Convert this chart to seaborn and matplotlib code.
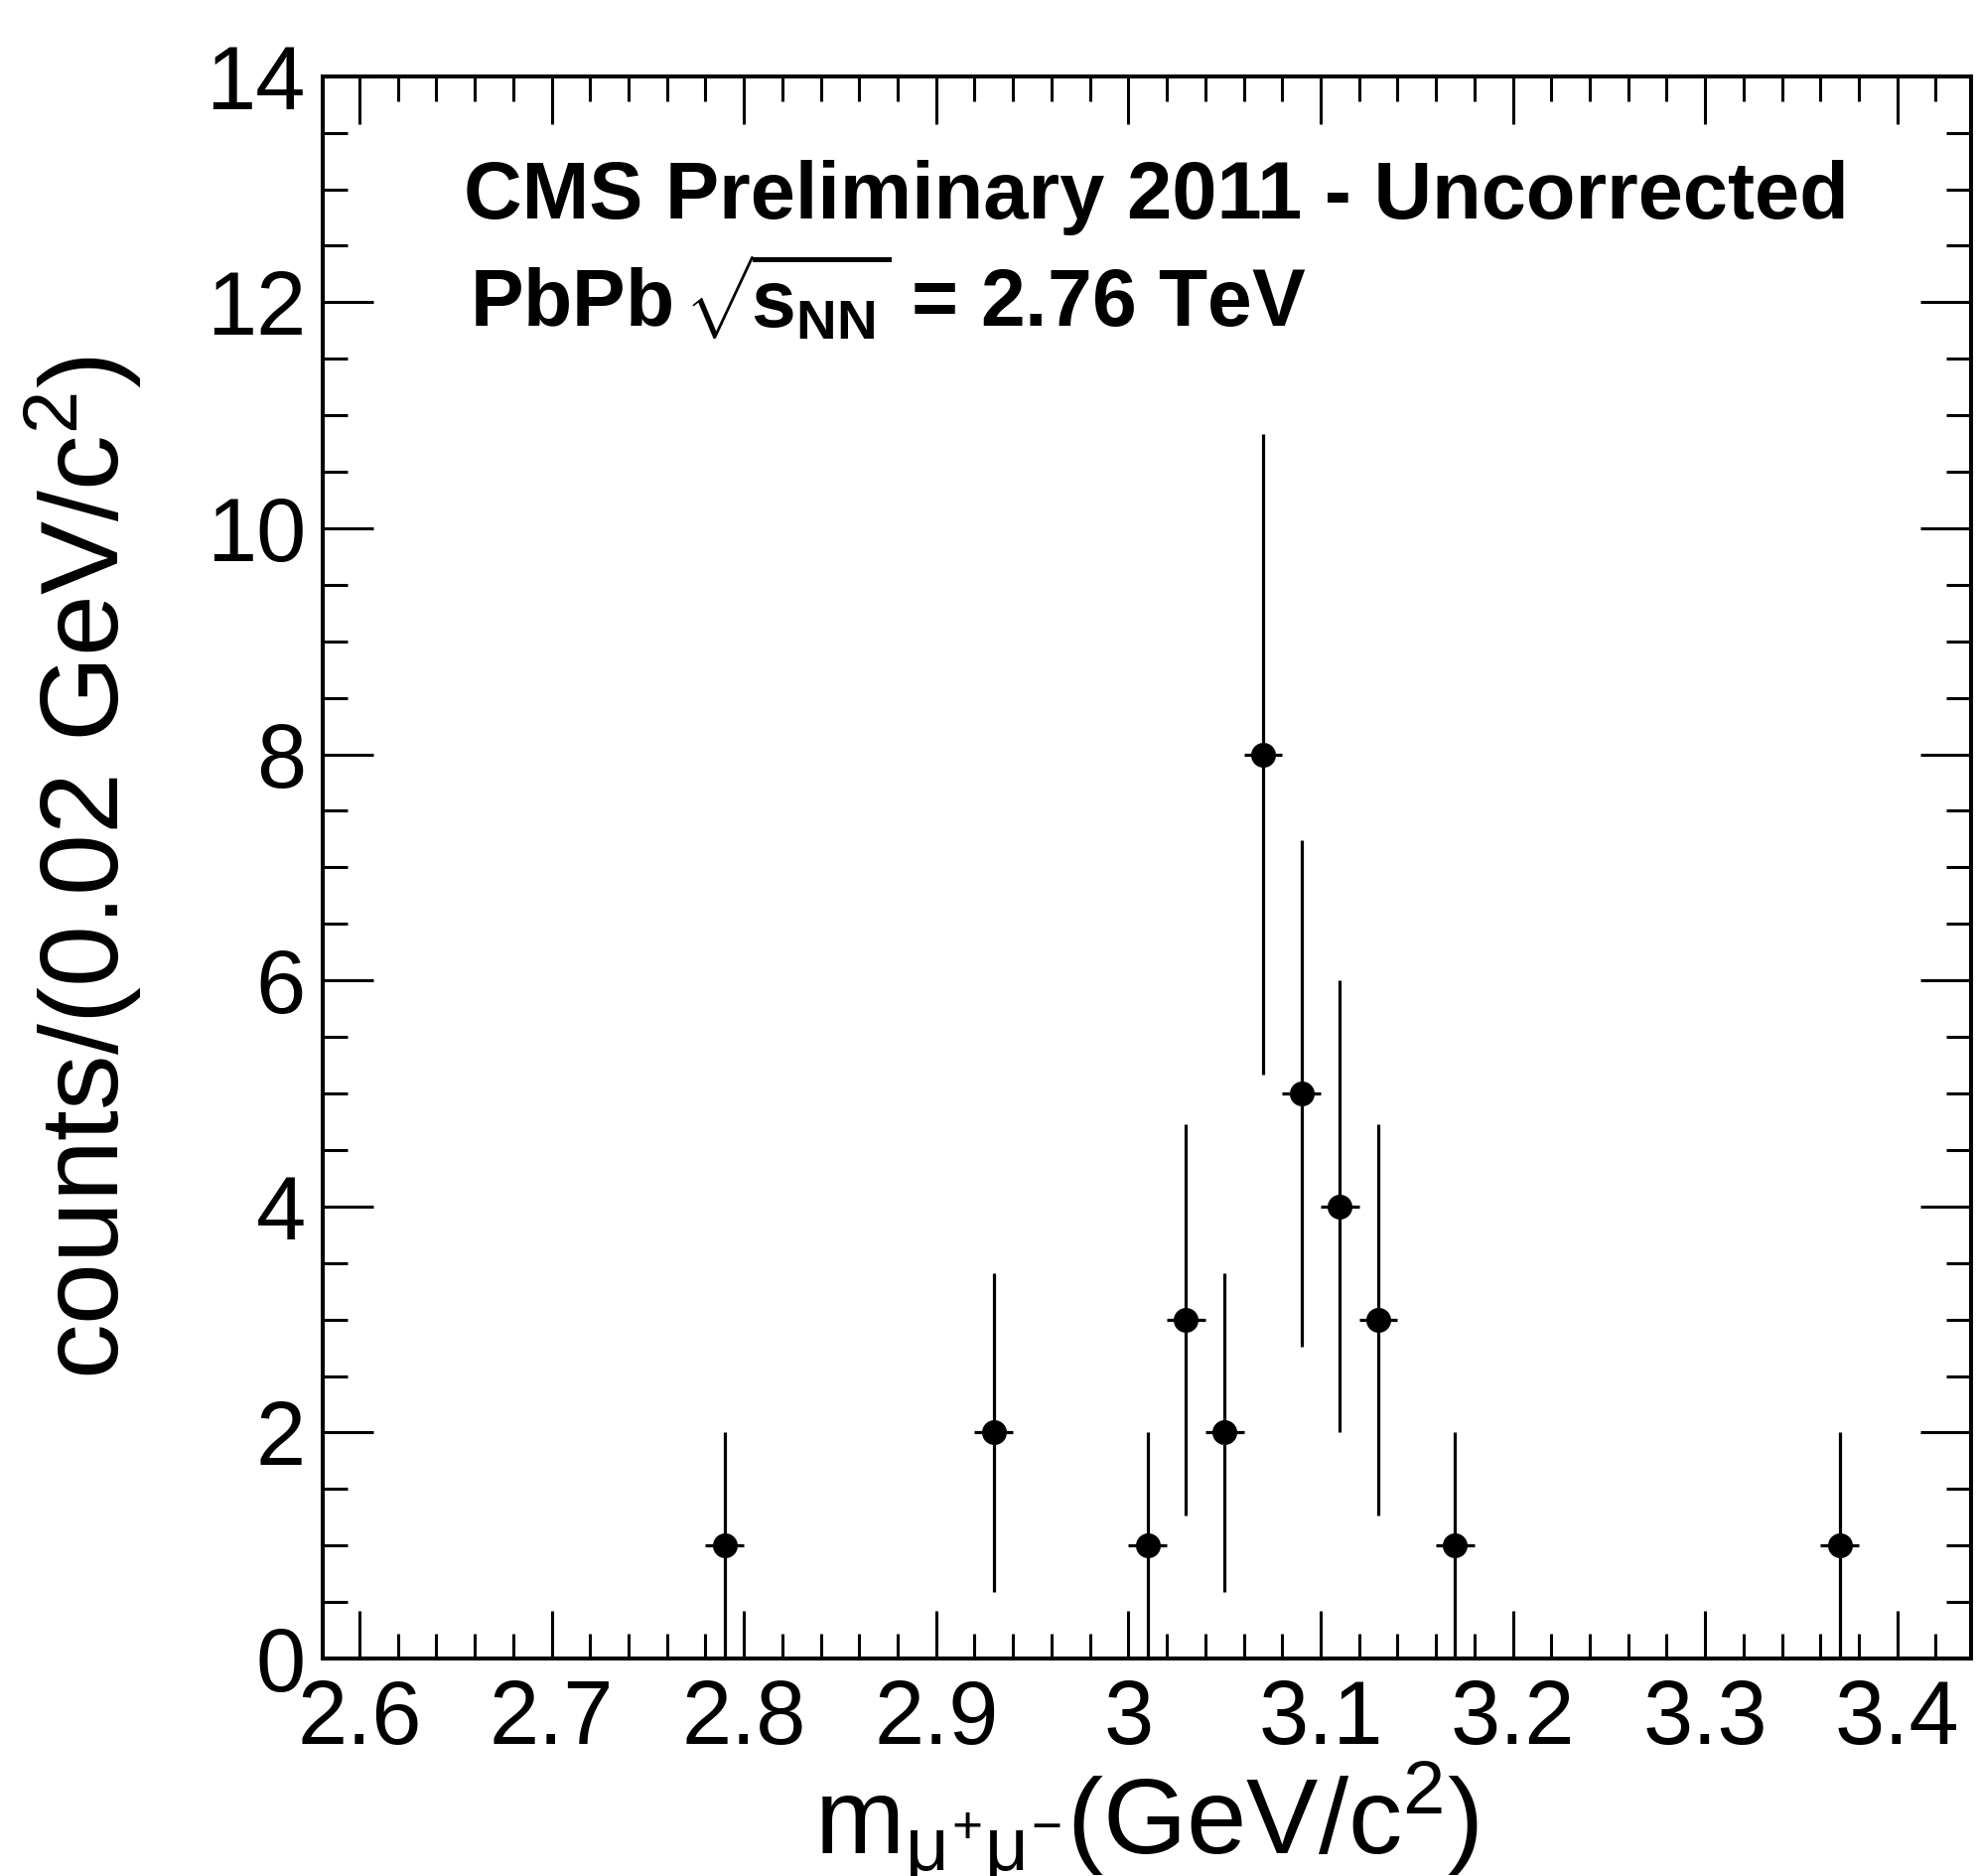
import numpy as np
import pandas as pd
import matplotlib
matplotlib.use("Agg")
import matplotlib.pyplot as plt
from matplotlib.ticker import MultipleLocator
import seaborn as sns

# dimuon invariant mass, bin centres (GeV/c^2), counts per 0.02 GeV/c^2
mass = [2.79, 2.93, 3.01, 3.03, 3.05, 3.07, 3.09, 3.11, 3.13, 3.17, 3.37]
counts = [1, 2, 1, 3, 2, 8, 5, 4, 3, 1, 1]
count_err = [1.0, 1.41, 1.0, 1.73, 1.41, 2.83, 2.24, 2.0, 1.73, 1.0, 1.0]
bin_half_width = 0.01

x_ticks = [2.6, 2.7, 2.8, 2.9, 3.0, 3.1, 3.2, 3.3, 3.4]
x_tick_labels = ["2.6", "2.7", "2.8", "2.9", "3", "3.1", "3.2", "3.3", "3.4"]
y_ticks = [0, 2, 4, 6, 8, 10, 12, 14]

sns.set_theme(style="ticks")
plt.rcParams["font.family"] = ["Liberation Sans", "DejaVu Sans"]
plt.rcParams["text.color"] = "black"
plt.rcParams["axes.labelcolor"] = "black"
plt.rcParams["mathtext.fontset"] = "custom"
plt.rcParams["mathtext.rm"] = "Liberation Sans"
plt.rcParams["mathtext.it"] = "Liberation Sans"
plt.rcParams["mathtext.bf"] = "Liberation Sans:bold"

df = pd.DataFrame({"mass": mass, "counts": counts, "err": count_err})

fig = plt.figure(figsize=(19.93, 18.89), dpi=100)
ax = fig.add_axes([0.1629, 0.1159, 0.8331, 0.8435])

ax.errorbar(df["mass"], df["counts"], yerr=df["err"], xerr=bin_half_width,
            fmt="none", ecolor="black", elinewidth=2.3, capsize=0, zorder=2)
sns.scatterplot(data=df, x="mass", y="counts", ax=ax, color="black",
                s=18 ** 2, edgecolor="black", linewidth=0, zorder=3)

ax.set_xlim(2.5807, 3.4384)
ax.set_ylim(0, 14)
ax.set_xticks(x_ticks)
ax.set_xticklabels(x_tick_labels)
ax.set_yticks(y_ticks)
ax.xaxis.set_minor_locator(MultipleLocator(0.02))
ax.yaxis.set_minor_locator(MultipleLocator(0.5))

ax.tick_params(which="both", direction="in", top=True, right=True,
               width=2.2, color="black", labelsize=65, labelcolor="black")
ax.tick_params(axis="x", which="major", length=34.5, pad=14)
ax.tick_params(axis="y", which="major", length=37, pad=12)
ax.tick_params(which="minor", length=18)
for sp in ax.spines.values():
    sp.set_linewidth(2.9)
    sp.set_color("black")

ax.set_xlabel(r"m$_{\mu^{+}\mu^{-}}$(GeV/c$^{2}$)", fontsize=78)
ax.set_ylabel(r"counts/(0.02 GeV/c$^{2}$)", fontsize=80)
ax.xaxis.set_label_coords(0.5, -0.064)
ax.yaxis.set_label_coords(-0.108, 0.5)

ax.text(0.0858, 0.910, "CMS Preliminary 2011 - Uncorrected", transform=ax.transAxes,
        fontsize=58.5, fontweight="bold", ha="left", va="baseline")
ax.text(0.0894, 0.841, r"PbPb $\!\sqrt{\!\mathbf{s}_{\mathbf{NN}}}$ = 2.76 TeV",
        transform=ax.transAxes, fontsize=58, fontweight="bold", ha="left", va="baseline")

fig.savefig("out.png", dpi=100, facecolor="white")
